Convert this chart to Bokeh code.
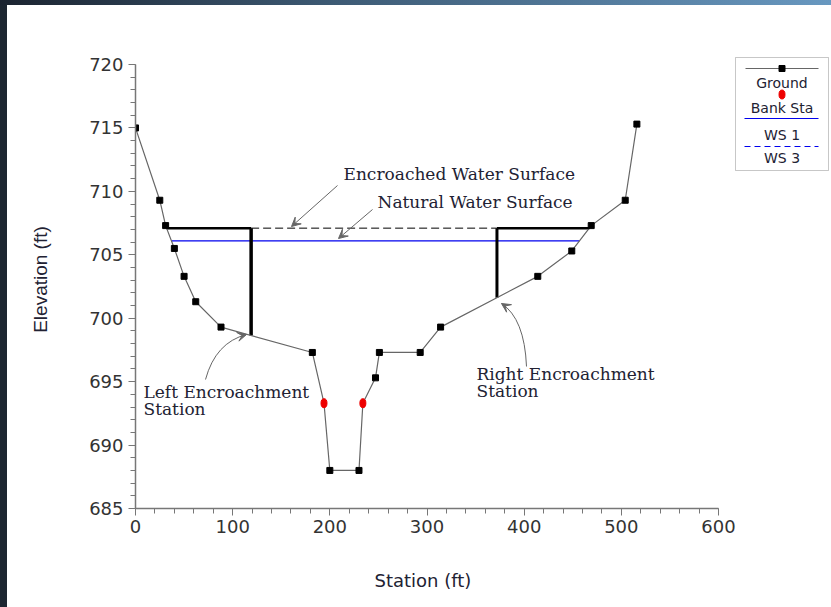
import numpy as np
from bokeh.plotting import figure
from bokeh.layouts import column, row
from bokeh.models import Range1d, Label, Arrow, VeeHead, BoxAnnotation, FixedTicker, Div, Title
from bokeh.embed import file_html
from bokeh.resources import INLINE

# ---------------- data ----------------
ground_sta = [0, 25, 31, 40, 50, 62, 88, 182, 194, 200, 230, 234, 247, 251, 293, 314, 414, 449, 469, 504, 516]
ground_elev = [715.0, 709.3, 707.3, 705.5, 703.3, 701.3, 699.3, 697.3, 693.3, 688.0, 688.0, 693.3,
               695.3, 697.3, 697.3, 699.3, 703.3, 705.3, 707.3, 709.3, 715.3]
bank_sta = [194, 234]
bank_elev = [693.3, 693.3]
ws1_elev = 706.1          # natural water surface
ws3_elev = 707.1          # encroached water surface
encr_left_sta = 119
encr_right_sta = 372
x_ticks = [0, 100, 200, 300, 400, 500, 600]
y_ticks = [685, 690, 695, 700, 705, 710, 715, 720]
legend_labels = ["Ground", "Bank Sta", "WS 1", "WS 3"]

GREY = "#666666"
AX = "#777777"
TXT = "#222233"

gs = np.array(ground_sta, dtype=float)
ge = np.array(ground_elev, dtype=float)
imin = int(np.argmin(ge))


def left_x(elev):
    s, e = gs[: imin + 1], ge[: imin + 1]
    return float(np.interp(elev, e[::-1], s[::-1]))


def right_x(elev):
    s, e = gs[imin + 1:], ge[imin + 1:]
    return float(np.interp(elev, e, s))


def ground_at(x):
    return float(np.interp(x, gs, ge))


# pixel helpers (page pixels -> data) for annotation/legend placement
PXX = 583.0 / 600.0
PXY = 444.0 / 35.0
FL, FB, FT = 135, 508, 50       # frame left / bottom / top in page px
SX, SY = 7, 5                    # slide edge strips (left width, top height)
PW, PH = 831, 607


def X(px):
    return (px - FL) / PXX


def Y(py):
    return 685.0 + (FB - py) / PXY


W, H = PW - SX, PH - SY
p = figure(width=W, height=H, output_backend="svg", toolbar_location=None,
           x_range=Range1d(0, X(PW - 1)), y_range=Range1d(685, Y(FT)),
           min_border_left=FL - SX, min_border_right=1, min_border_top=FT - SY, min_border_bottom=PH - FB)
p.outline_line_color = None
p.background_fill_color = "white"
p.border_fill_color = "white"
p.xgrid.visible = False
p.ygrid.visible = False

for ax, ticks, minor, bounds in ((p.xaxis[0], x_ticks, list(range(0, 601, 20)), (0, 600)),
                                 (p.yaxis[0], y_ticks, list(range(685, 721, 1)), (685, 720))):
    ax.ticker = FixedTicker(ticks=ticks, minor_ticks=minor)
    ax.bounds = bounds
    ax.axis_line_color = AX
    ax.axis_line_width = 1.5
    ax.major_tick_line_color = AX
    ax.minor_tick_line_color = AX
    ax.major_tick_in = 0
    ax.major_tick_out = 7
    ax.minor_tick_in = 0
    ax.minor_tick_out = 5
    ax.major_label_text_font = "DejaVu Sans"
    ax.major_label_text_font_size = "18px"
    ax.major_label_text_color = "#333333"
    ax.axis_label_text_font_style = "normal"
    ax.axis_label_text_color = TXT
p.xaxis.major_label_standoff = 4
p.yaxis.major_label_standoff = 5

# y title on the axis; x title as a bottom Title so it can centre on the 0-600 span
p.yaxis.axis_label = "Elevation (ft)"
p.yaxis.axis_label_text_font = "Liberation Sans"
p.yaxis.axis_label_text_font_size = "19px"
p.yaxis.axis_label_standoff = 35

# blank spacer label on the x axis pushes the bottom title down
p.xaxis.axis_label = "\u00a0"
p.xaxis.axis_label_standoff = 0
p.xaxis.axis_label_text_font_size = "18px"

XT = "Station (ft)"
p.add_layout(Title(text=XT, align="left", offset=239, vertical_align="top", standoff=22,
                   text_font="DejaVu Sans", text_font_size="18px", text_font_style="normal",
                   text_color=TXT), "below")

# natural water surface (WS 1)
p.line([left_x(ws1_elev), right_x(ws1_elev)], [ws1_elev, ws1_elev], line_color="#0000ee", line_width=1.2)

# encroached water surface
xl = left_x(ws3_elev)
xr = right_x(ws3_elev)
p.line([encr_left_sta, encr_right_sta], [ws3_elev, ws3_elev], line_color="black", line_width=1,
       line_dash="8 4")
p.line([xl, encr_left_sta], [ws3_elev, ws3_elev], line_color="black", line_width=2.5)
p.line([encr_right_sta, xr], [ws3_elev, ws3_elev], line_color="black", line_width=2.5)
p.line([encr_left_sta, encr_left_sta], [ws3_elev, ground_at(encr_left_sta)], line_color="black", line_width=3.5)
p.line([encr_right_sta, encr_right_sta], [ws3_elev, ground_at(encr_right_sta)], line_color="black", line_width=3)

# ground
p.line(ground_sta, ground_elev, line_color=GREY, line_width=1.2)
mask = [s not in bank_sta for s in ground_sta]
p.scatter([s for s, m in zip(ground_sta, mask) if m], [e for e, m in zip(ground_elev, mask) if m],
          marker="square", size=6, fill_color="black", line_color="black")
p.ellipse(bank_sta, bank_elev, width=6, height=9, width_units="screen", height_units="screen",
          fill_color="#ee0000", line_color="#ee0000")


# ---------------- annotations ----------------
def lab(txt, px, py):
    p.add_layout(Label(x=X(px), y=Y(py), text=txt, text_font="DejaVu Serif", text_font_size="17px",
                       text_color=TXT, text_baseline="middle", text_align="left"))


lab("Encroached Water Surface", 343, 173)
lab("Natural Water Surface", 377, 201)
lab("Left Encroachment", 143, 391)
lab("Station", 143, 408)
lab("Right Encroachment", 476, 373)
lab("Station", 476, 390)

p.add_layout(Arrow(x_start=X(337), y_start=Y(185), x_end=X(291), y_end=Y(226),
                   line_color=GREY, line_width=1,
                   end=VeeHead(size=9, line_color=GREY, line_width=1, fill_color=GREY)))
p.add_layout(Arrow(x_start=X(372), y_start=Y(209), x_end=X(338), y_end=Y(238),
                   line_color=GREY, line_width=1,
                   end=VeeHead(size=9, line_color=GREY, line_width=1, fill_color=GREY)))

# curved arrows
for (sx, sy), (cx, cy), (ex, ey) in (((205, 379), (215, 342), (246, 334)),
                                     ((526, 366), (524, 318), (501, 303))):
    p.quadratic(x0=[X(sx)], y0=[Y(sy)], x1=[X(ex)], y1=[Y(ey)], cx=[X(cx)], cy=[Y(cy)],
                line_color=GREY, line_width=1)
    p.add_layout(Arrow(x_start=X(cx), y_start=Y(cy), x_end=X(ex), y_end=Y(ey),
                       line_alpha=0,
                       end=VeeHead(size=9, line_color=GREY, line_width=1, fill_color=GREY)))

# ---------------- legend (drawn box) ----------------
LX0, LX1 = 735, 828
cxm = (LX0 + LX1) / 2
p.add_layout(BoxAnnotation(left=X(LX0), right=X(LX1), top=Y(57), bottom=Y(170), level="underlay",
                           fill_color="white", fill_alpha=1, line_color="#444444", line_width=1))
p.line([X(LX0 + 10), X(LX1 - 10)], [Y(68), Y(68)], line_color=GREY, line_width=1.2)
p.scatter([X(cxm)], [Y(68)], marker="square", size=6, fill_color="black", line_color="black")
p.ellipse([X(cxm)], [Y(94)], width=6, height=9, width_units="screen", height_units="screen",
          fill_color="#ee0000", line_color="#ee0000")
p.line([X(LX0 + 9), X(LX1 - 10)], [Y(118), Y(118)], line_color="#0000ee", line_width=1.2)
p.line([X(LX0 + 9), X(LX1 - 10)], [Y(146), Y(146)], line_color="#0000ee", line_width=1.2, line_dash="6 4")
for t, py in zip(legend_labels, [82, 107, 134, 157]):
    p.add_layout(Label(x=X(cxm), y=Y(py), text=t, text_font="DejaVu Sans", text_font_size="14px",
                       text_color=TXT, text_align="center", text_baseline="middle"))

# ---------------- slide frame edges ----------------
top_strip = Div(text="", width=PW, height=SY, margin=0,
                styles={"background": "linear-gradient(to right, #1b2430, #3d5a74 40%, #6898c0)"})
left_strip = Div(text="", width=SX, height=H, margin=0, styles={"background": "#1c2631"})
layout = column(top_strip, row(left_strip, p, spacing=0, margin=0), spacing=0, margin=0)

open("out.html", "w").write(file_html(layout, INLINE))
